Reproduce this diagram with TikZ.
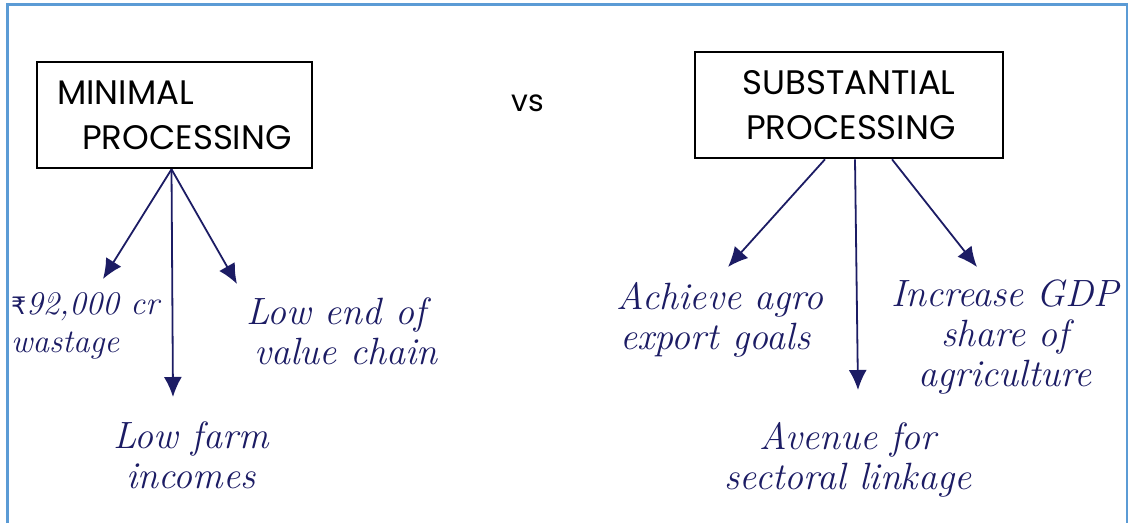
\documentclass[tikz,border=0pt]{standalone}
\usepackage{fontspec}
\usetikzlibrary{arrows.meta}
\newfontfamily\capsfont{Poppins}
\newfontfamily\rupeefont{DejaVu Sans}
\definecolor{ink}{HTML}{1C1C64}
\definecolor{bordercol}{HTML}{5B9BD5}

\begin{document}
\begin{tikzpicture}[x=1pt, y=-1pt,
  every node/.style = {align=center, inner sep=0pt},
  procbox/.style = {draw, line width=2.6pt, minimum height=106pt,
    font=\capsfont\fontsize{34}{45}\selectfont},
  leaf/.style = {text=ink, font=\itshape\fontsize{38}{40}\selectfont},
  link/.style = {draw=ink, line width=1.8pt, -{Latex[length=20pt,width=18pt]}}]
  \useasboundingbox (0,0) rectangle (1128,523);
  \node[procbox, minimum width=275pt, align=left] (minimal) at (174.5,115)
    {MINIMAL\\\hspace*{25pt}PROCESSING};
  \node[procbox, minimum width=308pt, align=right] (subst) at (849,105)
    {SUBSTANTIAL\\PROCESSING};
  \node[font=\capsfont\fontsize{30}{30}\selectfont] (vs) at (528,103) {vs};

  \node[leaf, anchor=west, align=left, font=\itshape\fontsize{33}{40}\selectfont] (waste) at (11,326)
    {{\rupeefont\upshape\fontsize{24}{24}\selectfont ₹}92,000 cr\\[-2pt]wastage};
  \node[leaf, align=left] (chain) at (342,331) {Low end of\\\hspace*{8pt}value chain};
  \node[leaf] (farm) at (191,455) {Low farm\\incomes};
  \node[leaf, align=left] (agro) at (720,320) {Achieve agro\\\hspace*{4pt}export goals};
  \node[leaf] (gdp) at (1005,337) {Increase GDP\\share of\\agriculture};
  \node[leaf] (avenue) at (848,460) {Avenue for\\sectoral linkage};

  \coordinate (wasteTip) at (103,279);
  \coordinate (farmTip) at (173,397);
  \coordinate (chainTip) at (237,284);
  \coordinate (agroTip) at (728,267);
  \coordinate (linkTip) at (858,390);
  \coordinate (gdpTip) at (977,267);

  \draw[link] ([xshift=-3pt]minimal.south) -- (wasteTip);
  \draw[link] ([xshift=-3pt]minimal.south) -- (farmTip);
  \draw[link] ([xshift=-3pt]minimal.south) -- (chainTip);
  \draw[link] ([xshift=-24pt]subst.south) -- (agroTip);
  \draw[link] ([xshift=6pt]subst.south) -- (linkTip);
  \draw[link] ([xshift=43pt]subst.south) -- (gdpTip);

  \draw[bordercol, line width=3pt] (7,523) -- (7,4) -- (1127,4) -- (1127,523);
\end{tikzpicture}
\end{document}
